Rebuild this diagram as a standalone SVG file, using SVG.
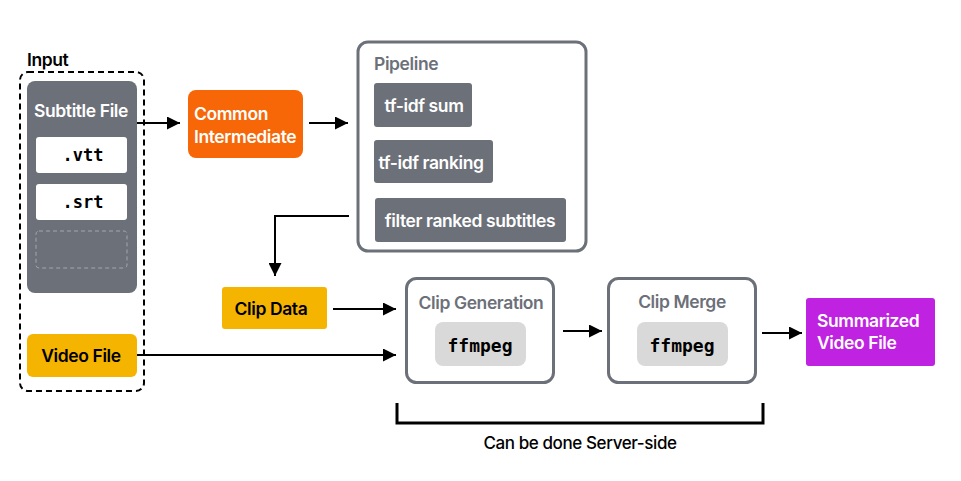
<svg xmlns="http://www.w3.org/2000/svg" width="961" height="481" viewBox="0 0 961 481">
<style>
text{font-family:Inter,"Liberation Sans",sans-serif;font-weight:600;font-size:17.5px;letter-spacing:-0.4px}
.w{fill:#ffffff}
.k{fill:#000000}
.g{fill:#6c7079}
.mono{font-family:"DejaVu Sans Mono","Liberation Mono",monospace;font-weight:700;font-size:17px;letter-spacing:0}
.mono18{font-size:18px}
.frame{fill:#ffffff;stroke:#6c7079;stroke-width:3}
.dark{fill:#6c7079}
.c{text-anchor:middle}
.conn{fill:none;stroke:#000;stroke-width:2}
</style>
<defs>
<marker id="ah" viewBox="0 0 10 10" refX="10" refY="5" markerWidth="6.5" markerHeight="6.5" markerUnits="strokeWidth" orient="auto">
<path d="M0,0 L10,5 L0,10 z" fill="#000"/>
</marker>
</defs>
<rect width="961" height="481" fill="#ffffff"/>

<g id="input-group">
<rect x="20" y="72" width="124" height="319" rx="8" fill="none" stroke="#000" stroke-width="2" stroke-dasharray="6,4"/>
<text x="27" y="66" class="k">Input</text>
</g>

<g id="subtitle-file">
<rect x="27" y="81" width="110" height="212" rx="8" class="dark"/>
<text x="81" y="117" class="w c">Subtitle File</text>
<rect x="36" y="137" width="91" height="36" rx="3" fill="#ffffff"/>
<text x="83" y="161" class="mono k c">.vtt</text>
<rect x="36" y="184" width="91" height="36" rx="3" fill="#ffffff"/>
<text x="83" y="208" class="mono k c">.srt</text>
<rect x="36" y="231" width="91" height="37" rx="3" fill="none" stroke="#a3a6ac" stroke-width="1" stroke-dasharray="4,3"/>
</g>

<g id="video-file">
<rect x="27" y="334" width="110" height="43" rx="6" fill="#f5b400"/>
<text x="81" y="362" class="k c">Video File</text>
</g>

<g id="common-intermediate">
<rect x="188" y="90" width="115" height="68" rx="8" fill="#f76707"/>
<text x="194" y="120" class="w">Common</text>
<text x="194" y="143" class="w">Intermediate</text>
</g>

<g id="pipeline">
<rect x="358" y="42" width="228" height="209" rx="10" class="frame"/>
<text x="374" y="70" class="g">Pipeline</text>
<rect x="374" y="83" width="98" height="44" rx="3" class="dark"/>
<text x="424" y="112" class="w c">tf-idf sum</text>
<rect x="374" y="140" width="119" height="43" rx="3" class="dark"/>
<text x="431" y="169" class="w c">tf-idf ranking</text>
<rect x="375" y="198" width="191" height="44" rx="3" class="dark"/>
<text x="470" y="227" class="w c">filter ranked subtitles</text>
</g>

<g id="clip-data">
<rect x="222" y="287" width="105" height="42" rx="3" fill="#f5b400"/>
<text x="271" y="315" class="k c">Clip Data</text>
</g>

<g id="clip-generation">
<rect x="406.5" y="278.5" width="147" height="104" rx="10" class="frame"/>
<text x="481" y="309" class="g c">Clip Generation</text>
<rect x="435" y="322" width="91" height="44" rx="8" fill="#d9d9d9"/>
<text x="480" y="352" class="mono mono18 k c">ffmpeg</text>
</g>

<g id="clip-merge">
<rect x="608.5" y="278.5" width="147" height="104" rx="10" class="frame"/>
<text x="682" y="308" class="g c">Clip Merge</text>
<rect x="637" y="322" width="91" height="44" rx="8" fill="#d9d9d9"/>
<text x="682" y="352" class="mono mono18 k c">ffmpeg</text>
</g>

<g id="summarized-video">
<rect x="806" y="298" width="129" height="68" rx="3" fill="#bf22e0"/>
<text x="817" y="327" class="w">Summarized</text>
<text x="817" y="349" class="w">Video File</text>
</g>

<g id="server-side">
<path d="M397,403 V423 H763 V403" fill="none" stroke="#000" stroke-width="3"/>
<text x="580" y="449" class="k c" style="font-weight:500;font-size:17px">Can be done Server-side</text>
</g>

<g id="connectors">
<line x1="137" y1="123" x2="180" y2="123" class="conn" marker-end="url(#ah)"/>
<line x1="309" y1="123" x2="348" y2="123" class="conn" marker-end="url(#ah)"/>
<polyline points="349,216 275,216 275,276" class="conn" marker-end="url(#ah)"/>
<line x1="333" y1="309" x2="396" y2="309" class="conn" marker-end="url(#ah)"/>
<line x1="137" y1="355" x2="396" y2="355" class="conn" marker-end="url(#ah)"/>
<line x1="563" y1="331" x2="602" y2="331" class="conn" marker-end="url(#ah)"/>
<line x1="762" y1="333" x2="802" y2="333" class="conn" marker-end="url(#ah)"/>
</g>
</svg>
